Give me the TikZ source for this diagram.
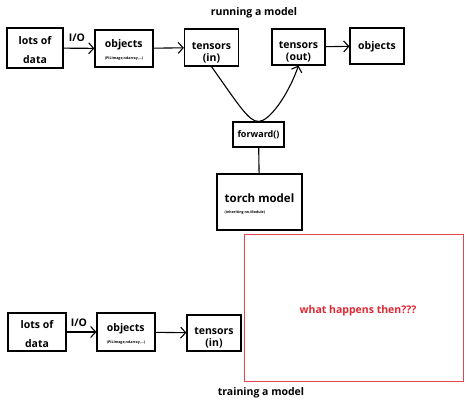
\documentclass[tikz,border=0pt]{standalone}
\usepackage{fontspec}
\setmainfont{Open Sans}
\usetikzlibrary{arrows.meta}
\definecolor{boxred}{RGB}{226,70,80}
\definecolor{textred}{RGB}{222,40,52}
\tikzset{
  box/.style={draw, line width=1.2pt, inner sep=0pt},
  lbl/.style={inner sep=0pt, align=center, font=\bfseries\fontsize{10.5}{12}\selectfont},
  lbll/.style={inner sep=0pt, align=left, font=\bfseries\fontsize{10.5}{14}\selectfont},
  arr/.style={-{Straight Barb[length=5pt,width=11pt]}, line width=1.1pt},
  plain/.style={line width=1.1pt}
}
\newcommand{\smalltxt}[1]{{\fontsize{3.6}{4}\selectfont #1}}
\begin{document}
\begin{tikzpicture}[x=1pt,y=-1pt]
\useasboundingbox[fill=white] (0,0) rectangle (474,405);
% ---- running a model ----
\node[lbl] (title1) at (254,13) {running a model};
\node[box, minimum width=56pt, minimum height=40pt] (lots1) at (35,48) {};
\node[lbl, font=\bfseries\fontsize{10.5}{19}\selectfont] (lots1t) at (35,50.5) {lots of\\data};
\node[box, minimum width=58pt, minimum height=37pt] (obj1) at (124,48.5) {};
\node[lbll] (obj1t) at (124,50) {objects\\[-2pt]\smalltxt{(PILImage,ndarray,...)}};
\node[box, minimum width=54pt, minimum height=37pt] (tin1) at (211.5,47.5) {};
\node[lbl] (tin1t) at (211.5,53) {tensors\\(in)};
\node[box, minimum width=53pt, minimum height=36pt] (tout) at (298.5,47) {};
\node[lbl] (toutt) at (298.5,51.5) {tensors\\(out)};
\node[box, minimum width=54pt, minimum height=36pt] (obj2) at (377,46) {};
\node[lbl] (obj2t) at (377,47) {objects};
\node[box, minimum width=51pt, minimum height=25pt] (fwd) at (258.5,134.5) {};
\node[lbl, font=\bfseries\fontsize{9}{11}\selectfont] (fwdt) at (258.5,135) {forward()};
\node[box, minimum width=85pt, minimum height=56pt] (torch) at (259.5,202) {};
\node[lbll, font=\bfseries\fontsize{11.5}{14}\selectfont] (torcht) at (259.5,204) {torch model\\[-3pt]\smalltxt{(inheriting nn.Module)}};
\node[lbl] (io1) at (77,38) {I/O};
\draw[arr] (lots1) -- (obj1);
\draw[arr] (obj1) -- (tin1);
\draw[arr] (tout) -- (obj2);
\draw[arr] (tin1.south) .. controls (238,104) and (249,122) .. (fwd.north)
  .. controls (268,122) and (287,98) .. (tout.south);
\draw[plain] (fwd) -- (torch);
% ---- training a model ----
\node[box, minimum width=58pt, minimum height=38pt] (lots2) at (37,332) {};
\node[lbl, font=\bfseries\fontsize{10.5}{19}\selectfont] (lots2t) at (37,334) {lots of\\data};
\node[box, minimum width=58pt, minimum height=38pt] (obj3) at (126,332) {};
\node[lbll] (obj3t) at (126,334) {objects\\[-2pt]\smalltxt{(PILImage,ndarray,...)}};
\node[box, minimum width=54pt, minimum height=36pt] (tin2) at (214,333) {};
\node[lbl] (tin2t) at (214,337.5) {tensors\\(in)};
\node[lbl] (io2) at (79,323) {I/O};
\draw[arr] (lots2) -- (obj3);
\draw[arr] (obj3) -- (tin2);
\node[draw=boxred, line width=0.9pt, minimum width=219pt, minimum height=147pt, inner sep=0pt] (what) at (353.5,307.5) {};
\node[lbl, text=textred] (whatt) at (358,311) {what happens then???};
\node[lbl] (title2) at (261,393) {training a model};
\end{tikzpicture}
\end{document}
